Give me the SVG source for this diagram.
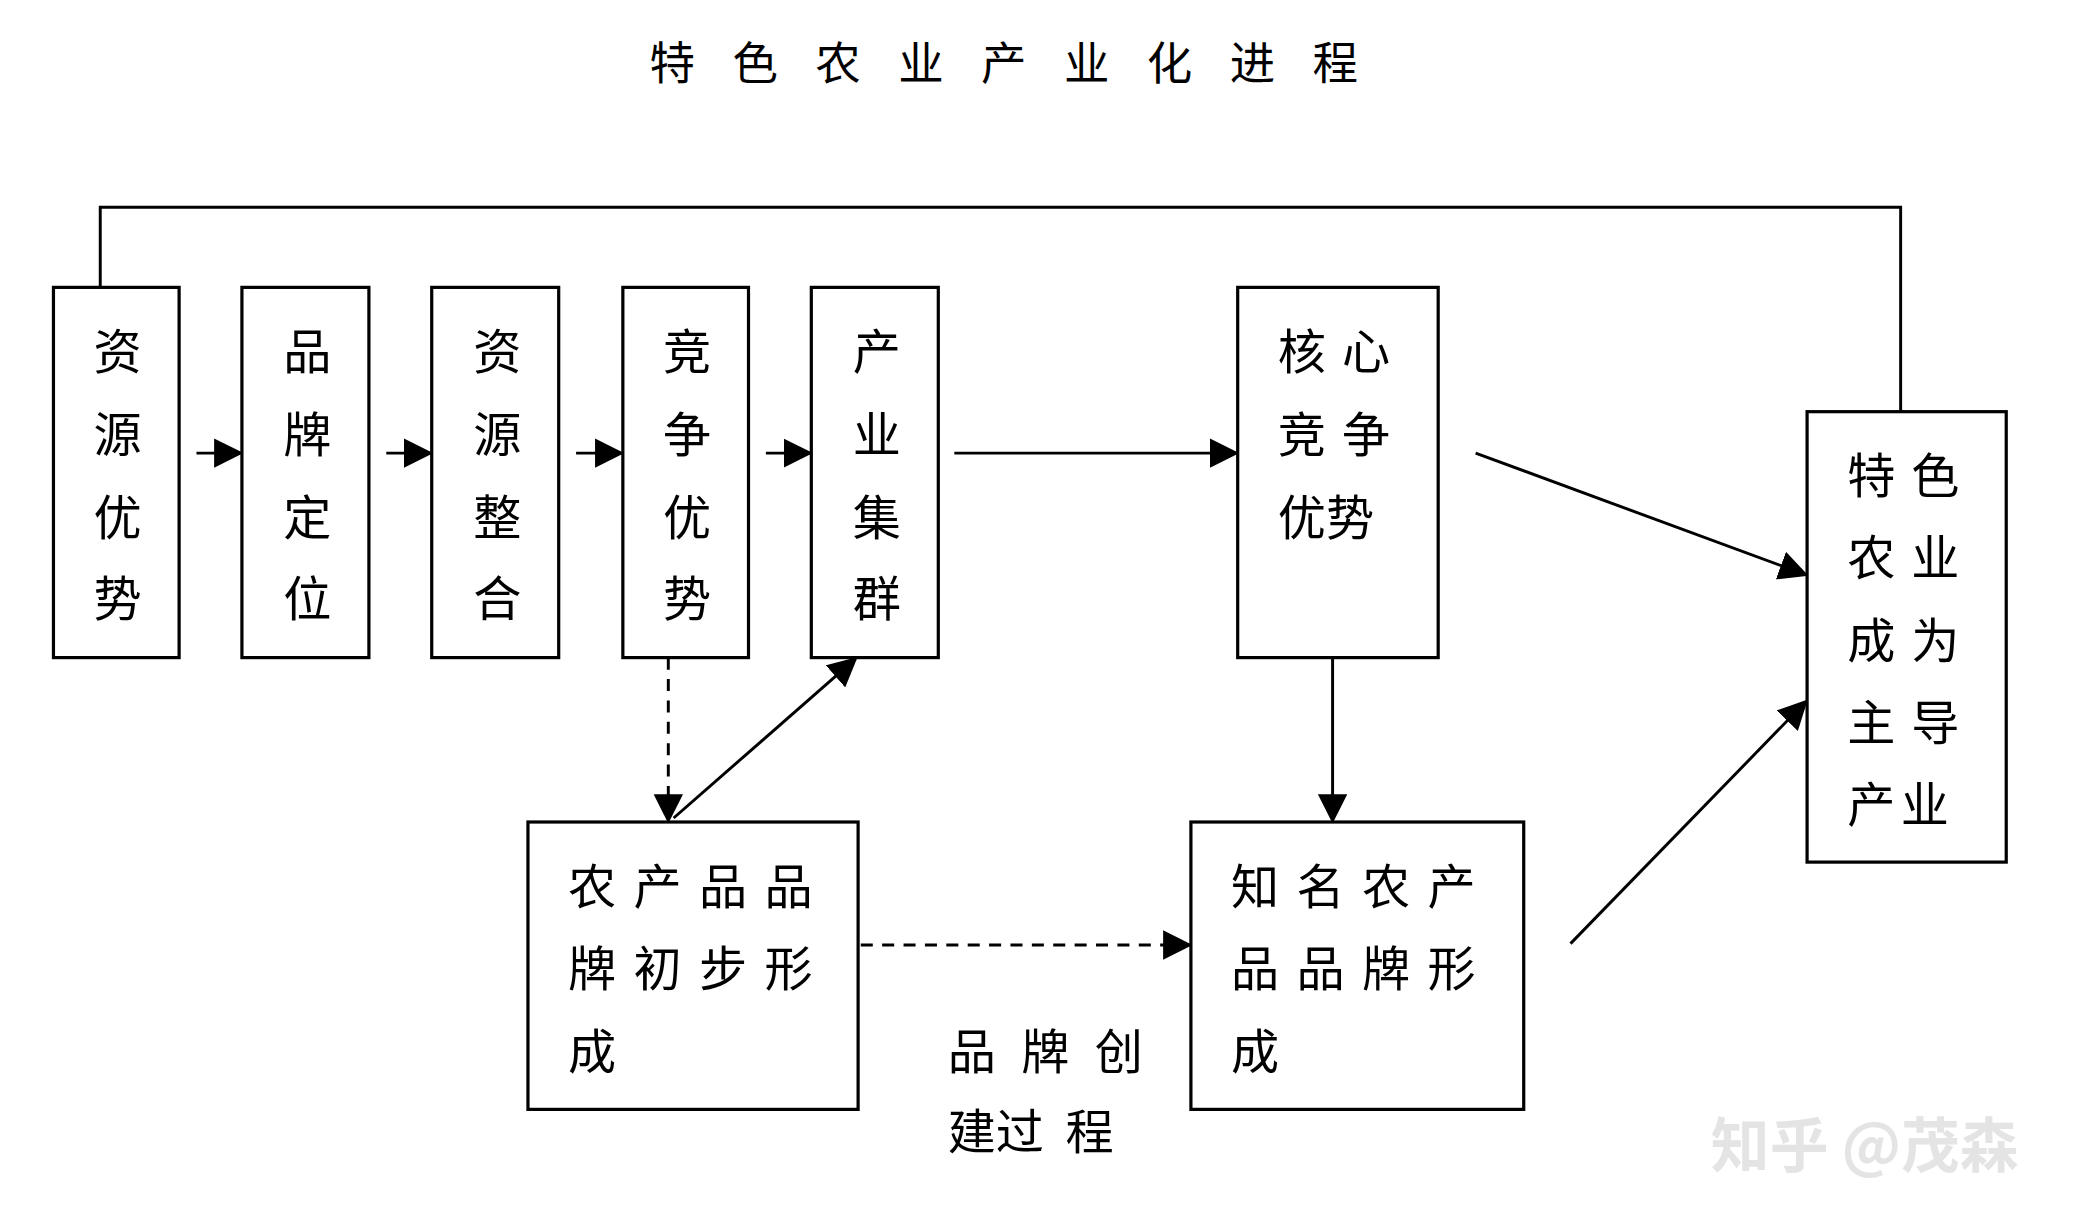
<svg xmlns="http://www.w3.org/2000/svg" width="2096" height="1230" viewBox="0 0 2096 1230">
<style>
.b{fill:#fff;stroke:#000;stroke-width:2.4}
.t{font-family:"Noto Sans CJK SC","Noto Sans CJK JP",sans-serif;font-size:36px;fill:#000}
.v{text-anchor:middle}
.l{fill:none;stroke:#000;stroke-width:2.2}
.d{stroke-dasharray:9 7}
</style>
<defs>
<marker id="A" viewBox="0 0 10 10" refX="9" refY="5" markerWidth="22" markerHeight="22" orient="auto" markerUnits="userSpaceOnUse"><path d="M0,0L10,5L0,10z"/></marker>
</defs>
<rect width="2096" height="1230" fill="#fff"/>
<g transform="scale(1.3366)">
<text x="765" y="60" class="t v" style="font-size:34px;letter-spacing:28px">特色农业产业化进程</text>
<g id="connectors">
<polyline class="l" points="75,215 75,155 1422,155 1422,308"/>
<line class="l" x1="147" y1="339" x2="180" y2="339" marker-end="url(#A)"/>
<line class="l" x1="289" y1="339" x2="322" y2="339" marker-end="url(#A)"/>
<line class="l" x1="431" y1="339" x2="465" y2="339" marker-end="url(#A)"/>
<line class="l" x1="573" y1="339" x2="606" y2="339" marker-end="url(#A)"/>
<line class="l" x1="714" y1="339" x2="925" y2="339" marker-end="url(#A)"/>
<line class="l" x1="1104" y1="339" x2="1351" y2="430" marker-end="url(#A)"/>
<line class="l" x1="1175" y1="706" x2="1351" y2="525" marker-end="url(#A)"/>
<line class="l" x1="997" y1="492" x2="997" y2="614" marker-end="url(#A)"/>
<line class="l d" x1="500" y1="492" x2="500" y2="614" marker-end="url(#A)"/>
<line class="l" x1="504" y1="612" x2="640" y2="493" marker-end="url(#A)"/>
<line class="l d" x1="644" y1="707" x2="890" y2="707" marker-end="url(#A)"/>
</g>
<g id="n1"><rect class="b" x="40" y="215" width="94" height="277"/><text class="t v"><tspan x="88" y="276">资</tspan><tspan x="88" y="338">源</tspan><tspan x="88" y="400">优</tspan><tspan x="88" y="461">势</tspan></text></g>
<g id="n2"><rect class="b" x="181" y="215" width="95" height="277"/><text class="t v"><tspan x="230" y="276">品</tspan><tspan x="230" y="338">牌</tspan><tspan x="230" y="400">定</tspan><tspan x="230" y="461">位</tspan></text></g>
<g id="n3"><rect class="b" x="323" y="215" width="95" height="277"/><text class="t v"><tspan x="372" y="276">资</tspan><tspan x="372" y="338">源</tspan><tspan x="372" y="400">整</tspan><tspan x="372" y="461">合</tspan></text></g>
<g id="n4"><rect class="b" x="466" y="215" width="94" height="277"/><text class="t v"><tspan x="514" y="276">竞</tspan><tspan x="514" y="338">争</tspan><tspan x="514" y="400">优</tspan><tspan x="514" y="461">势</tspan></text></g>
<g id="n5"><rect class="b" x="607" y="215" width="95" height="277"/><text class="t v"><tspan x="656" y="276">产</tspan><tspan x="656" y="338">业</tspan><tspan x="656" y="400">集</tspan><tspan x="656" y="461">群</tspan></text></g>
<g id="n6"><rect class="b" x="926" y="215" width="150" height="277"/><text class="t" style="letter-spacing:12px"><tspan x="956" y="276">核心</tspan><tspan x="956" y="338">竞争</tspan><tspan x="956" y="400" style="letter-spacing:0">优势</tspan></text></g>
<g id="n7"><rect class="b" x="1352" y="308" width="149" height="337"/><text class="t" style="letter-spacing:12px"><tspan x="1382" y="369">特色</tspan><tspan x="1382" y="430">农业</tspan><tspan x="1382" y="492">成为</tspan><tspan x="1382" y="554">主导</tspan><tspan x="1382" y="615" style="letter-spacing:4px">产业</tspan></text></g>
<g id="n8"><rect class="b" x="395" y="615" width="247" height="215"/><text class="t" style="letter-spacing:13px"><tspan x="425" y="676">农产品品</tspan><tspan x="425" y="738">牌初步形</tspan><tspan x="425" y="800">成</tspan></text></g>
<g id="n9"><rect class="b" x="891" y="615" width="249" height="215"/><text class="t" style="letter-spacing:13px"><tspan x="921" y="676">知名农产</tspan><tspan x="921" y="738">品品牌形</tspan><tspan x="921" y="800">成</tspan></text></g>
<text class="t"><tspan x="709" y="800" style="letter-spacing:19px">品牌创</tspan><tspan x="709" y="860" style="white-space:pre">建过  程</tspan></text>
<text x="1280" y="873" style="font-family:'Noto Sans CJK SC',sans-serif;font-size:44px;font-weight:bold;fill:#e4e4e4">知乎 @茂森</text>
</g>
</svg>
